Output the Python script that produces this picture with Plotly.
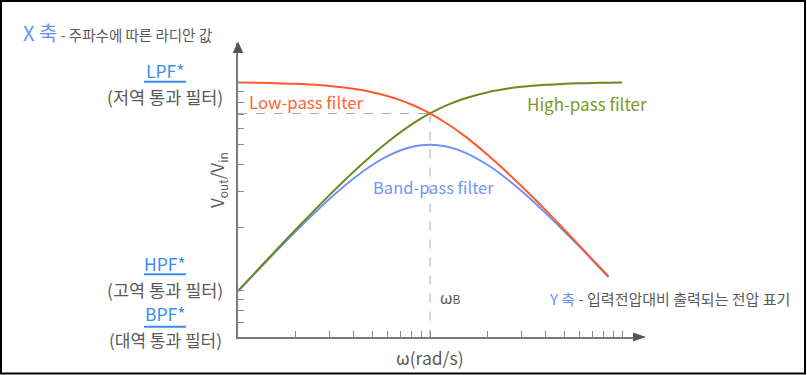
import plotly.graph_objects as go

# ---- data ----
omega = [1, 1.5, 2, 3, 4, 5, 6, 7, 8, 9, 10, 12, 15, 20, 25, 30, 40, 50, 60, 70, 85]
lpf = [9.95, 9.89, 9.81, 9.58, 9.28, 8.94, 8.57, 8.19, 7.81, 7.43, 7.07, 6.40, 5.55,
       4.47, 3.71, 3.16, 2.43, 1.96, 1.64, 1.41, 1.17]
bpf = [0.99, 1.467, 1.923, 2.752, 3.448, 4.0, 4.412, 4.698, 4.878, 4.972, 5.0, 4.918,
       4.615, 4.0, 3.448, 3.0, 2.353, 1.923, 1.622, 1.40, 1.16]
omega_h = [1, 1.5, 2, 3, 4, 5, 6, 7, 8, 9, 10, 12, 15, 20, 25, 30, 40, 50, 60, 70, 85, 100]
hpf = [0.995, 1.483, 1.961, 2.874, 3.714, 4.472, 5.145, 5.735, 6.247, 6.690, 7.07, 7.682,
       8.321, 8.944, 9.285, 9.487, 9.701, 9.806, 9.864, 9.899, 9.932, 9.95]
omega_b = 10          # ωB
cut_level = 7.07      # crossing level (dashed)
x_ticks = [2, 3, 4, 5, 6, 7, 8, 9, 10, 20, 30, 40, 50, 60, 70, 80, 90, 100]
y_ticks = [0.7, 0.8, 0.9, 1, 2, 3, 4, 5, 6, 7, 8, 9, 10]
x_range_log = [0, 2.0625]
y_range_log = [-0.2237, 1.1877]

W, H = 807, 375
L, R, T, B = 238, 173, 43, 38
PW, PH = W - L - R, H - T - B


def px(x):
    return (x - L) / PW


def py(y):
    return (H - B - y) / PH


FONT = "Noto Sans CJK KR"
GRAY = "#5a5a5a"
BLUE = "#3a8cf2"
LBLUE = "#6d8ff5"

fig = go.Figure()

y_bottom = 10 ** y_range_log[0]
fig.add_trace(go.Scatter(x=[1, omega_b], y=[cut_level, cut_level], mode="lines",
                         line=dict(color="#aaaaaa", width=1, dash="dash"), hoverinfo="skip"))
fig.add_trace(go.Scatter(x=[omega_b, omega_b], y=[cut_level, y_bottom], mode="lines",
                         line=dict(color="#aaaaaa", width=1, dash="dash"), hoverinfo="skip"))

fig.add_trace(go.Scatter(x=omega, y=bpf, mode="lines", line=dict(color="#6f93f5", width=2, shape="spline")))
fig.add_trace(go.Scatter(x=omega_h, y=hpf, mode="lines", line=dict(color="#6b8a1f", width=2, shape="spline")))
fig.add_trace(go.Scatter(x=omega, y=lpf, mode="lines", line=dict(color="#ff5a2c", width=2, shape="spline")))

fig.update_layout(
    width=W, height=H, margin=dict(l=L, r=R, t=T, b=B),
    paper_bgcolor="white", plot_bgcolor="white", showlegend=False,
    font=dict(family=FONT, color=GRAY),
    xaxis=dict(type="log", range=x_range_log, tickvals=x_ticks, showticklabels=False,
               ticks="inside", ticklen=6, tickcolor="#888", tickwidth=1,
               showgrid=False, zeroline=False, showline=True, linecolor="#7a7a7a", linewidth=1.5),
    yaxis=dict(type="log", range=y_range_log, tickvals=y_ticks, showticklabels=False,
               ticks="inside", ticklen=6, tickcolor="#888", tickwidth=1,
               showgrid=False, zeroline=False, showline=True, linecolor="#7a7a7a", linewidth=1.5),
)

shapes = []
# axis arrowheads
shapes.append(dict(type="path", xref="paper", yref="paper",
                   path=f"M {px(232.7)} {py(53)} L {px(238)} {py(41.5)} L {px(243.3)} {py(53)} Z",
                   fillcolor="#555", line=dict(width=0)))
shapes.append(dict(type="path", xref="paper", yref="paper",
                   path=f"M {px(633)} {py(332.5)} L {px(646)} {py(337)} L {px(633)} {py(341.5)} Z",
                   fillcolor="#555", line=dict(width=0)))
# underlines
for yy in (81.7, 274.3, 326.7):
    shapes.append(dict(type="line", xref="paper", yref="paper", x0=px(144), x1=px(186),
                       y0=py(yy), y1=py(yy), line=dict(color=BLUE, width=2)))
# frame
shapes.append(dict(type="rect", xref="paper", yref="paper", x0=px(1), x1=px(805),
                   y0=py(373.5), y1=py(1), line=dict(color="black", width=2)))
fig.update_layout(shapes=shapes)


def ann(text, x, y, size, color=GRAY, xanchor="center", angle=0):
    fig.add_annotation(text=text, x=px(x), y=py(y), xref="paper", yref="paper",
                       showarrow=False, xanchor=xanchor, yanchor="middle",
                       font=dict(size=size, color=color, family=FONT), textangle=angle)


ann(f"<span style='color:{LBLUE};font-size:20px'>X 축</span> - 주파수에 따른 라디안 값", 21, 32, 14.5, xanchor="left")
ann(f"<span style='color:{LBLUE}'>Y 축</span> - 입력전압대비 출력되는 전압 표기", 547, 298, 15, xanchor="left")

ann("LPF*", 165, 70, 17.5, BLUE)
ann("(저역 통과 필터)", 165, 96, 17.5)
ann("HPF*", 165, 263, 17.5, BLUE)
ann("(고역 통과 필터)", 165, 289, 17.5)
ann("BPF*", 165, 313, 17.5, BLUE)
ann("(대역 통과 필터)", 165, 340, 17)

ann("Low-pass filter", 247, 102, 16.8, "#ff6436", xanchor="left")
ann("High-pass filter", 525, 103, 17, "#7a9a24", xanchor="left")
ann("Band-pass filter", 371, 187, 16.5, "#7196f7", xanchor="left")
ann("ω<span style='font-size:12px'>B</span>", 438, 297, 16, xanchor="left")
ann("ω(rad/s)", 430, 357, 17.5)
ann("V<sub>out</sub>/V<sub>in</sub>", 217, 180, 17, angle=-90)

fig.write_html("out.html", config={"displayModeBar": False},
               post_script="document.body.style.margin='0';document.body.style.padding='0';")
